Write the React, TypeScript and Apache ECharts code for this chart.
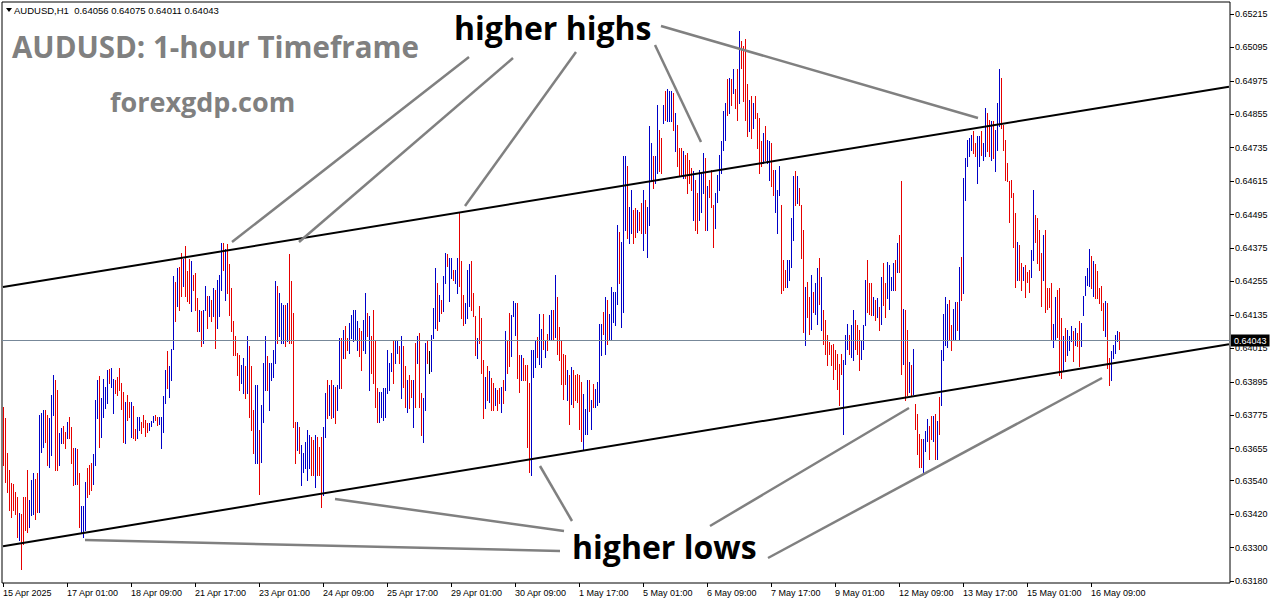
import React, { useEffect, useRef } from "react";
import * as echarts from "echarts";

// ---------- data (prices in points, 1 point = 0.00001) ----------
const xTickLabels = [
  "15 Apr 2025", "17 Apr 01:00", "18 Apr 09:00", "21 Apr 17:00", "23 Apr 01:00", "24 Apr 09:00",
  "25 Apr 17:00", "29 Apr 01:00", "30 Apr 09:00", "1 May 17:00", "5 May 01:00", "6 May 09:00",
  "7 May 17:00", "9 May 01:00", "12 May 09:00", "13 May 17:00", "15 May 01:00", "16 May 09:00",
];
const yTickValues = [
  0.65215, 0.65095, 0.64975, 0.64855, 0.64735, 0.64615, 0.64495, 0.64375, 0.64255,
  0.64135, 0.64015, 0.63895, 0.63775, 0.63655, 0.6354, 0.6342, 0.633, 0.6318,
];

const barHighs = [
  63806,63764,63640,63580,63532,63530,63500,63482,63424,63422,
  63482,63482,63580,63470,63542,63568,63548,63566,63776,63782,
  63794,63794,63776,63764,63848,63920,63902,63866,63710,63728,
  63736,63716,63752,63770,63734,63656,63658,63654,63566,63448,
  63448,63536,63586,63596,63602,63636,63828,63900,63916,63836,
  63904,63878,63938,63940,63944,63904,63902,63912,63944,63890,
  63860,63824,63848,63824,63824,63808,63724,63768,63770,63752,
  63776,63758,63748,63748,63754,63772,63775,63770,63770,63770,
  63844,63936,64004,63952,64012,64274,64252,64304,64308,64358,
  64334,64382,64292,64334,64328,64280,64286,64196,64154,64148,
  64154,64238,64202,64202,64190,64232,64226,64262,64280,64394,
  64394,64370,64388,64316,64232,64112,64058,63998,63992,63956,
  63980,63950,64058,64022,63950,63794,63884,63884,63722,63812,
  63962,64058,63986,63962,63962,64010,64256,64238,64214,64178,
  64172,64172,64178,64352,64256,64142,63752,63752,63734,63668,
  63638,63680,63722,63704,63698,63686,63704,63698,63662,63698,
  63734,63854,63902,63884,63902,63884,63878,63884,64052,64052,
  64082,64094,64052,64106,64136,64154,64154,64112,64088,64076,
  64118,64214,64142,64130,64058,64154,64040,63872,63860,63860,
  63872,63872,64010,63962,63998,64046,64040,64040,64022,64058,
  64022,63950,63902,63920,63902,63902,64034,64058,64070,63854,
  63836,64034,64040,64004,64064,64160,64304,64250,64208,64190,
  64274,64358,64352,64340,64340,64298,64298,64340,64502,64328,
  64208,64178,64298,64316,64328,64214,64130,64052,64166,64124,
  63974,63914,63950,63932,63908,63890,63872,63866,63872,63878,
  63902,64076,64040,64142,64136,64184,64178,64178,63992,63992,
  63980,63956,63956,63890,64010,64008,64044,64056,64140,64086,
  64140,64044,64068,64134,64152,64152,64278,64200,64092,64044,
  63996,63990,63936,63918,63948,63936,63918,63924,63918,63894,
  63852,63798,63900,63900,63828,63888,63870,63894,64104,64104,
  64146,64200,64188,64140,64236,64218,64218,64458,64434,64398,
  64704,64704,64668,64524,64584,64512,64518,64512,64506,64536,
  64584,64548,64524,64812,64752,64704,64704,64890,64800,64770,
  64890,64938,64944,64938,64938,64932,64860,64818,64734,64734,
  64722,64710,64716,64692,64662,64650,64620,64572,64656,64644,
  64716,64698,64596,64620,64656,64530,64572,64638,64710,64758,
  64866,64896,64980,64986,64980,65016,64944,65016,65154,65118,
  65100,65124,64962,64908,64920,64896,64920,64860,64842,64758,
  64788,64812,64764,64758,64752,64656,64656,64584,64668,64530,
  64332,64296,64332,64332,64482,64632,64650,64632,64590,64530,
  64440,64236,64254,64200,64278,64218,64248,64302,64338,64272,
  64152,64116,64062,64038,64026,64032,64008,63996,63960,63996,
  63972,64062,64104,64062,64098,64152,64116,64098,64080,64044,
  64098,64260,64332,64248,64248,64200,64188,64194,64164,64272,
  64320,64248,64326,64314,64272,64320,64332,64392,64422,64614,
  64158,64152,64080,63966,63954,64014,63816,63780,63708,63690,
  63690,63720,63762,63738,63774,63774,63780,63756,63840,64008,
  64140,64200,64176,64188,64098,64158,64182,64182,64308,64344,
  64626,64698,64764,64770,64782,64794,64752,64776,64776,64794,
  64752,64878,64860,64836,64830,64830,64800,64896,65016,64986,
  64818,64764,64680,64614,64620,64572,64500,64398,64386,64320,
  64308,64314,64290,64296,64368,64584,64494,64482,64440,64358,
  64422,64440,64230,64230,64248,64104,64200,64224,64230,64124,
  64058,64088,64082,64058,64094,64076,64088,64070,64112,64106,
  64202,64274,64304,64370,64346,64328,64316,64292,64232,64238,
  64178,64184,64178,63980,64004,64028,64064,64076,64075,
];

const barLows = [
  63596,63536,63500,63434,63410,63434,63422,63338,63326,63224,
  63314,63362,63356,63374,63416,63422,63404,63428,63428,63644,
  63662,63680,63596,63590,63632,63776,63578,63578,63596,63674,
  63674,63656,63692,63692,63602,63524,63530,63530,63374,63352,
  63338,63362,63482,63494,63506,63530,63596,63764,63662,63698,
  63770,63800,63818,63890,63878,63782,63854,63848,63866,63796,
  63680,63674,63758,63770,63698,63692,63686,63692,63722,63712,
  63734,63700,63716,63722,63736,63752,63758,63740,63742,63656,
  63716,63818,63872,63840,63902,64012,64112,64166,64154,64202,
  64238,64202,64184,64178,64148,64226,64154,64076,64076,64022,
  64034,64154,64088,64130,64112,64130,64016,64088,64130,64226,
  64298,64190,64214,64136,64076,63992,63992,63920,63866,63890,
  63854,63836,63854,63770,63722,63638,63602,63602,63494,63608,
  63752,63866,63866,63794,63902,63914,63962,64034,64058,64034,
  64034,64022,64040,64034,64034,63734,63602,63650,63638,63524,
  63572,63584,63542,63584,63560,63560,63518,63560,63560,63446,
  63488,63698,63764,63776,63764,63770,63746,63794,63872,63872,
  63980,63980,64010,63998,64052,64040,64046,64010,63986,63938,
  64010,63998,64058,63866,63926,63890,63806,63752,63752,63770,
  63758,63770,63854,63866,63932,63890,63962,63998,63962,63836,
  63878,63806,63788,63800,63842,63734,63806,63962,63806,63704,
  63680,63794,63962,63926,63932,64052,64088,64082,64112,64142,
  64148,64250,64310,64184,64268,64262,64250,64214,64238,64124,
  64100,64106,64124,64166,64154,64130,63992,63980,64034,63926,
  63764,63800,63830,63824,63794,63794,63812,63794,63818,63788,
  63818,63866,63926,63950,63986,64130,64064,63908,63860,63902,
  63902,63902,63662,63572,63560,63912,63948,63984,63960,63948,
  64014,63984,64008,64044,64050,64044,64056,63996,63972,63888,
  63834,63888,63828,63744,63816,63804,63828,63822,63726,63684,
  63654,63708,63708,63792,63726,63804,63804,63810,63822,63990,
  64068,63996,64032,64044,64050,64110,64098,64176,64248,64092,
  64146,64440,64410,64392,64428,64392,64416,64434,64440,64428,
  64368,64428,64344,64458,64620,64590,64608,64644,64650,64644,
  64824,64836,64830,64830,64830,64800,64722,64668,64638,64632,
  64626,64626,64572,64608,64584,64476,64440,64428,64476,64506,
  64572,64440,64440,64560,64524,64380,64446,64542,64584,64644,
  64728,64764,64854,64860,64890,64932,64878,64836,64896,65022,
  64902,64836,64776,64794,64770,64806,64842,64734,64644,64668,
  64680,64692,64680,64620,64596,64566,64506,64428,64566,64212,
  64224,64236,64236,64260,64308,64404,64530,64536,64530,64338,
  64074,64026,64128,64068,64086,64146,64140,64104,64176,64080,
  64032,63996,63954,63996,63954,63906,63942,63870,63810,63924,
  63708,63960,64014,63996,63984,63972,64014,63996,63936,63978,
  64014,64098,64146,64140,64134,64134,64116,64128,64080,64104,
  64170,64128,64194,64158,64224,64224,64224,64290,64290,63924,
  63960,63828,63846,63858,63846,63852,63726,63636,63588,63588,
  63570,63648,63684,63618,63690,63684,63618,63618,63708,63810,
  63972,64026,64020,64044,64008,64044,64050,64080,64050,64188,
  64212,64548,64668,64704,64728,64716,64704,64608,64668,64710,
  64692,64704,64722,64704,64692,64698,64650,64728,64812,64806,
  64728,64620,64614,64470,64560,64380,64236,64260,64260,64224,
  64260,64200,64254,64218,64272,64332,64398,64320,64296,64166,
  64260,64146,64158,64164,64044,64020,64044,64056,63918,63908,
  63932,63968,63992,64010,64040,63968,64028,64022,63950,64022,
  64136,64208,64244,64238,64232,64202,64196,64196,64178,64154,
  64082,64058,63944,63884,63902,63980,63998,64040,64011,
];

// B = up bar (blue), R = down bar (red), K = unchanged (black)
const barDirection = [
  "RRRRRRRRBR", "RRRBBBRRBB", "BRRBBBRRBB", "RRBRRRBRRB", "BBRRRBBBRB",
  "BBBRBBRRRR", "RBRRBRRBBR", "RRRBBBRRBB", "BBRBBBRBRR", "BRRRBRRRBR",
  "BBRBRBRBBB", "RBRRRRRRRB", "BRBRRRBBRB", "BBRBBBBRBB", "BRBRRRRBRB",
  "BBBBRRBRRR", "BBRBRBRBBR", "BRRBBBBBRR", "BBRBRRRRBB", "BBBBBRBBRB",
  "RRBRRBRBRR", "BBRKBBBRBR", "BBRBBRBBRR", "RBBBRRRBRR", "RBRBRRBRRB",
  "RBRRBBBRRB", "RRRRBBBRBB", "RBRBBRBRRR", "RRBRBRRRRR", "BBBRBRBBBB",
  "RBRBBBBBRB", "BBRBBRRBRR", "BRBBBRBBRR", "BRBBBRBRRR", "BRRRRBRRBB",
  "BRBRRRBBBB", "BBRBRBRRBR", "RRRBRBRRRR", "BRBBRRBBBR", "RRBBBBRBRR",
  "RBRRBRBBRB", "RRRRRRRRRR", "BBBRBBRRRB", "BBRRRBRBRB", "RRBBBBRBRR",
  "BRRBRBRRRR", "BBBRRBRBRB", "BBBRRBBRBR", "BBBBBRRBBR", "BBRRBRBBBR",
  "RRRRRRRBRR", "BRRRBBRRRR", "BRRRRBBRRR", "BRBBBRBRRB", "BBBBRBRRRR",
  "RBRRBBBBR",
].join("");

const lastPrice = 0.64043;
const headerText = "AUDUSD,H1  0.64056 0.64075 0.64011 0.64043";
const upperChannel = [[0, 0.64235], [613, 0.64954]];
const lowerChannel = [[0, 0.63305], [613, 0.6403]];
const slotCount = 614;
const labelEvery = 32;

// ---------- layout / style ----------
const W = 1276;
const H = 604;
const AXIS_FONT = "'Liberation Sans', Arial, sans-serif";
const BIG_FONT = "'Open Sans', 'Noto Sans', sans-serif";
const UP = "#0000c8";
const DOWN = "#e60000";
const POINTER = "#808080";

const pointerLines = [
  [232, 242, 469, 57],
  [299, 242, 513, 58],
  [465, 206, 576, 52],
  [655, 45, 701, 142],
  [661, 26, 978, 118],
  [540, 466, 572, 521],
  [335, 499, 564, 531],
  [85, 540, 560, 551],
  [710, 526, 909, 408],
  [768, 558, 1102, 378],
];

export default function App() {
  const ref = useRef<HTMLDivElement>(null);

  useEffect(() => {
    if (!ref.current) return;
    const chart = echarts.init(ref.current, undefined, { renderer: "svg", width: W, height: H });

    const n = Math.min(barHighs.length, barLows.length, barDirection.length);
    const bars = [];
    for (let i = 0; i < n; i++) {
      const d = barDirection[i];
      bars.push([i, barLows[i] / 1e5, barHighs[i] / 1e5, d === "B" ? 1 : d === "R" ? -1 : 0]);
    }
    const categories = Array.from({ length: slotCount }, (_, i) => String(i));
    const isLabelSlot = (i: number) => i % labelEvery === 0 && i / labelEvery < xTickLabels.length;

    const graphic: any[] = [
      { type: "polygon", shape: { points: [[6, 8], [12, 8], [9, 12]] }, style: { fill: "#000" }, z: 100 },
      {
        type: "text", x: 14, y: 10, z: 100,
        style: { text: headerText, fontFamily: AXIS_FONT, fontSize: 9.5, fill: "#000", verticalAlign: "middle" },
      },
      {
        type: "text", x: 12, y: 46, z: 100,
        style: { text: "AUDUSD: 1-hour Timeframe", fontFamily: BIG_FONT, fontWeight: "bold", fontSize: 29.5, fill: "#808080", verticalAlign: "middle" },
      },
      {
        type: "text", x: 110, y: 101, z: 100,
        style: { text: "forexgdp.com", fontFamily: BIG_FONT, fontWeight: "bold", fontSize: 27, fill: "#808080", verticalAlign: "middle" },
      },
      {
        type: "text", x: 454, y: 27, z: 100,
        style: { text: "higher highs", fontFamily: BIG_FONT, fontWeight: "bold", fontSize: 32, fill: "#000", verticalAlign: "middle" },
      },
      {
        type: "text", x: 572, y: 546, z: 100,
        style: { text: "higher lows", fontFamily: BIG_FONT, fontWeight: "bold", fontSize: 32, fill: "#000", verticalAlign: "middle" },
      },
      ...pointerLines.map(([x1, y1, x2, y2]) => ({
        type: "line", z: 90,
        shape: { x1, y1, x2, y2 },
        style: { stroke: POINTER, lineWidth: 2.5 },
      })),
    ];

    chart.setOption({
      animation: false,
      backgroundColor: "#fff",
      grid: { left: 2, top: 2, width: 1228, height: 581, show: true, borderColor: "#000", borderWidth: 1, backgroundColor: "#fff" },
      xAxis: {
        type: "category",
        data: categories,
        boundaryGap: true,
        axisLine: { show: false },
        axisTick: {
          show: true, alignWithLabel: true, length: 4,
          interval: (i: number) => isLabelSlot(i),
          lineStyle: { color: "#000", width: 1 },
        },
        axisLabel: {
          interval: (i: number) => isLabelSlot(i),
          formatter: (v: string) => {
            const i = Number(v);
            return isLabelSlot(i) ? xTickLabels[i / labelEvery] : "";
          },
          align: "left", margin: 5, fontFamily: AXIS_FONT, fontSize: 9, color: "#000",
        },
        splitLine: { show: false },
      },
      yAxis: {
        type: "value",
        position: "right",
        min: 0.63173,
        max: 0.65258,
        axisLine: { show: false },
        axisTick: { show: true, length: 4, customValues: yTickValues, lineStyle: { color: "#000", width: 1 } },
        axisLabel: {
          customValues: yTickValues,
          formatter: (v: number) => v.toFixed(5),
          margin: 5, fontFamily: AXIS_FONT, fontSize: 9, color: "#000",
        },
        splitLine: { show: false },
      },
      graphic,
      series: [
        {
          type: "custom",
          clip: true,
          data: bars,
          encode: { x: 0, y: [1, 2] },
          renderItem: (_params: any, api: any) => {
            const i = api.value(0);
            const pHi = api.coord([i, api.value(2)]);
            const pLo = api.coord([i, api.value(1)]);
            const d = api.value(3);
            const x = Math.floor(pHi[0] + 0.01);
            const y1 = Math.round(pHi[1]);
            const y2 = Math.round(pLo[1]);
            return {
              type: "rect",
              shape: { x, y: y1, width: 1, height: Math.max(1, y2 - y1 + 1) },
              style: { fill: d > 0 ? UP : d < 0 ? DOWN : "#000" },
            };
          },
          markLine: {
            silent: true,
            precision: 5,
            symbol: ["none", "none"],
            label: { show: false },
            data: [
              [
                { coord: upperChannel[0], lineStyle: { color: "#000", width: 2, type: "solid" } },
                { coord: upperChannel[1] },
              ],
              [
                { coord: lowerChannel[0], lineStyle: { color: "#000", width: 2, type: "solid" } },
                { coord: lowerChannel[1] },
              ],
              {
                yAxis: lastPrice,
                lineStyle: { color: "#778899", width: 1, type: "solid" },
                label: {
                  show: true, position: "end", formatter: lastPrice.toFixed(5),
                  backgroundColor: "#000", color: "#fff", padding: [2, 3, 1, 3], distance: 1,
                  fontFamily: AXIS_FONT, fontSize: 9,
                },
              },
            ],
          },
        },
      ],
    });

    return () => chart.dispose();
  }, []);

  return (
    <div
      ref={ref}
      style={{ position: "fixed", left: 0, top: 0, width: W, height: H, background: "#fff" }}
    />
  );
}
